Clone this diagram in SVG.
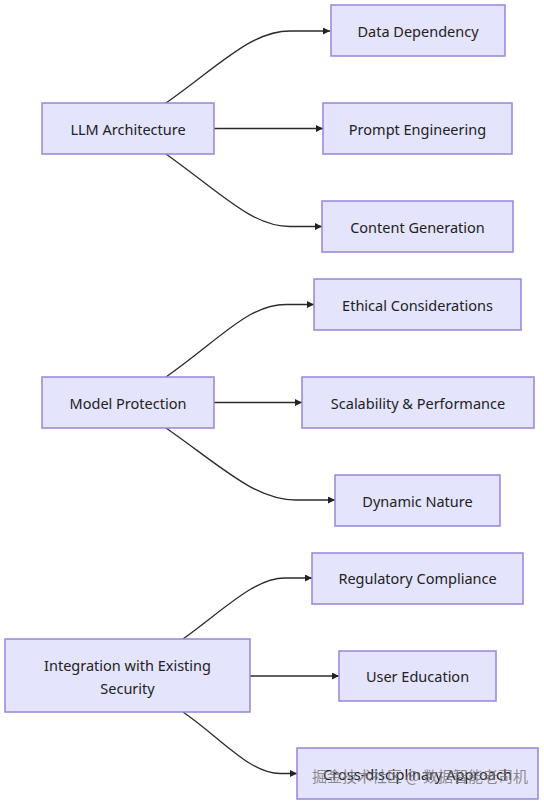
<svg xmlns="http://www.w3.org/2000/svg" width="544" height="803" viewBox="0 0 544 803">
  <style>
    .node rect { fill: #E4E4FC; stroke: #9A84DA; stroke-width: 1.5; }
    .node text { font-family: "Noto Sans", "DejaVu Sans", sans-serif; font-size: 14.5px; fill: #222; text-anchor: middle; dominant-baseline: central; }
    .edge { fill: none; stroke: #2b2b2b; stroke-width: 1.3; }
    .wm { font-family: "Noto Sans CJK SC", "Noto Sans", sans-serif; font-size: 15px; fill: #7a7a7a; fill-opacity: 0.85; text-anchor: middle; dominant-baseline: central; }
  </style>
  <defs>
    <marker id="arrow" viewBox="0 0 10 10" refX="10" refY="5" markerWidth="7" markerHeight="7" markerUnits="userSpaceOnUse" orient="auto">
      <path d="M0,0 L10,5 L0,10 z" fill="#222"/>
    </marker>
  </defs>
  <rect width="544" height="803" fill="#ffffff"/>

  <g id="connectors">
    <path class="edge" marker-end="url(#arrow)" d="M166,103 C222,63 252,31 290,31 L330,31"/>
    <path class="edge" marker-end="url(#arrow)" d="M214,128.5 L323,128.5"/>
    <path class="edge" marker-end="url(#arrow)" d="M166,154 C222,194 252,226.5 290,226.5 L322,226.5"/>

    <path class="edge" marker-end="url(#arrow)" d="M166,377 C220,339 248,304.5 286,304.5 L314,304.5"/>
    <path class="edge" marker-end="url(#arrow)" d="M214,402.5 L302,402.5"/>
    <path class="edge" marker-end="url(#arrow)" d="M166,428 C222,467 255,500 296,500 L335,500"/>

    <path class="edge" marker-end="url(#arrow)" d="M183,639 C227,607 255,578 285,578 L312,578"/>
    <path class="edge" marker-end="url(#arrow)" d="M250,676 L339,676"/>
    <path class="edge" marker-end="url(#arrow)" d="M183,712 C222,739 250,773.5 280,773.5 L297,773.5"/>
  </g>

  <g id="llm-architecture" class="node">
    <rect x="42" y="103" width="172" height="51"/>
    <text x="128" y="128.5">LLM Architecture</text>
  </g>
  <g id="data-dependency" class="node">
    <rect x="331" y="5" width="174" height="51"/>
    <text x="418" y="30.5">Data Dependency</text>
  </g>
  <g id="prompt-engineering" class="node">
    <rect x="323" y="103" width="189" height="51"/>
    <text x="417.5" y="128.5">Prompt Engineering</text>
  </g>
  <g id="content-generation" class="node">
    <rect x="322" y="201" width="191" height="51"/>
    <text x="417.5" y="226.5">Content Generation</text>
  </g>

  <g id="model-protection" class="node">
    <rect x="42" y="377" width="172" height="51"/>
    <text x="128" y="402.5">Model Protection</text>
  </g>
  <g id="ethical-considerations" class="node">
    <rect x="314" y="279" width="207" height="51"/>
    <text x="417.5" y="304.5">Ethical Considerations</text>
  </g>
  <g id="scalability-performance" class="node">
    <rect x="302" y="377" width="232" height="51"/>
    <text x="418" y="402.5">Scalability &amp; Performance</text>
  </g>
  <g id="dynamic-nature" class="node">
    <rect x="335" y="475" width="165" height="51"/>
    <text x="417.5" y="500.5">Dynamic Nature</text>
  </g>

  <g id="integration-existing-security" class="node">
    <rect x="5" y="639" width="245" height="73"/>
    <text x="127.5" y="664.5">Integration with Existing</text>
    <text x="127.5" y="687.5">Security</text>
  </g>
  <g id="regulatory-compliance" class="node">
    <rect x="312" y="553" width="211" height="51"/>
    <text x="417.5" y="578">Regulatory Compliance</text>
  </g>
  <g id="user-education" class="node">
    <rect x="339" y="651" width="157" height="50"/>
    <text x="417.5" y="676">User Education</text>
  </g>
  <g id="cross-disciplinary-approach" class="node">
    <rect x="297" y="748" width="241" height="51"/>
    <text x="417.5" y="773.5">Cross-disciplinary Approach</text>
  </g>

  <text class="wm" x="420" y="775">掘金技术社区 @ 数据智能老司机</text>
</svg>
